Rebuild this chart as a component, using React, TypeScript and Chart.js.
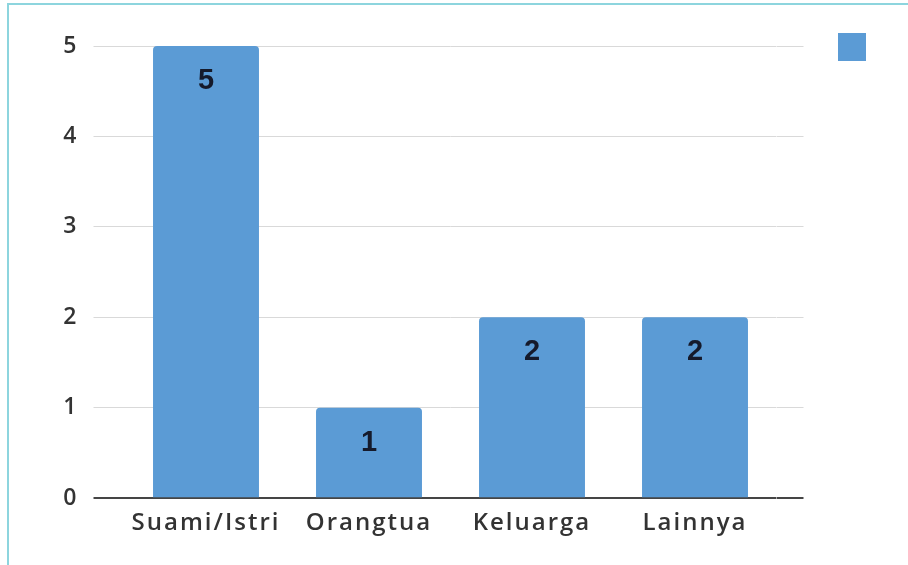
import { useEffect, useRef } from 'react';
import { Chart, registerables } from 'chart.js';

Chart.register(...registerables);

const categories: string[] = ['Suami/Istri', 'Orangtua', 'Keluarga', 'Lainnya'];
const values: number[] = [5, 1, 2, 2];
const yMin = 0;
const yMax = 5;
const yStep = 1;

const FONT = '"Open Sans", "DejaVu Sans", sans-serif';

export default function App() {
  const ref = useRef<HTMLCanvasElement | null>(null);

  useEffect(() => {
    if (!ref.current) return;
    const gridColor = (c: any) => (c.tick && c.tick.value === 0 ? '#454545' : '#d9d9d9');
    const gridWidth = (c: any) => (c.tick && c.tick.value === 0 ? 2 : 1);

    const spacingPlugin = {
      id: 'spacing',
      beforeLayout(chart: any) {
        chart.ctx.letterSpacing = '2px';
      },
      beforeDraw(chart: any) {
        chart.ctx.letterSpacing = '2px';
      },
    };

    const labelPlugin = {
      id: 'barLabels',
      afterDatasetsDraw(chart: any) {
        const { ctx } = chart;
        const meta = chart.getDatasetMeta(0);
        ctx.save();
        ctx.letterSpacing = '0px';
        ctx.font = 'bold 29px "Liberation Sans", Arial, sans-serif';
        ctx.fillStyle = '#151a2b';
        ctx.textAlign = 'center';
        ctx.textBaseline = 'middle';
        meta.data.forEach((bar: any, i: number) => {
          const { x, y } = bar.getProps(['x', 'y'], true);
          ctx.fillText(String(values[i]), x, y + 35);
        });
        ctx.restore();
      },
    };

    const chart = new Chart(ref.current, {
      type: 'bar',
      data: {
        labels: categories,
        datasets: [
          {
            label: '',
            data: values,
            backgroundColor: '#5b9bd5',
            borderWidth: 0,
            borderRadius: 4,
            barPercentage: 0.65,
            categoryPercentage: 1,
            xAxisID: 'x',
            yAxisID: 'y',
          },
        ],
      },
      options: {
        responsive: false,
        animation: false,
        layout: { padding: { top: 23, right: 26, bottom: 16, left: 0 } },
        plugins: {
          tooltip: { enabled: false },
          legend: {
            position: 'right',
            align: 'start',
            labels: { boxWidth: 28, boxHeight: 28, padding: 10, font: { size: 12 } },
          },
        },
        scales: {
          x: {
            type: 'category',
            offset: true,
            grid: { display: false, drawTicks: false },
            border: { display: false },
            ticks: {
              font: { family: FONT, size: 24, weight: '600' },
              color: '#333333',
              padding: 11,
              maxRotation: 0,
              autoSkip: false,
            },
          },
          xTop: {
            type: 'category',
            position: 'top',
            labels: categories,
            grid: { display: false, drawTicks: false },
            border: { display: false },
            ticks: { display: false },
            afterFit(s: any) {
              s.height = 23;
            },
          },
          y: {
            type: 'linear',
            min: yMin,
            max: yMax,
            ticks: {
              stepSize: yStep,
              font: { family: FONT, size: 23, weight: '600' },
              color: '#333333',
              padding: 15,
            },
            grid: {
              color: gridColor,
              lineWidth: gridWidth,
              tickColor: gridColor,
              tickLength: 31,
              drawTicks: true,
            },
            border: { display: false },
            afterFit(s: any) {
              s.width = 124.5;
            },
          },
          yR: {
            type: 'linear',
            position: 'right',
            min: yMin,
            max: yMax,
            ticks: { stepSize: yStep, display: false },
            grid: {
              drawOnChartArea: false,
              color: gridColor,
              lineWidth: gridWidth,
              tickColor: gridColor,
              tickLength: 27,
              drawTicks: true,
            },
            border: { display: false },
            afterFit(s: any) {
              s.width = 51.5;
            },
          },
        },
      },
      plugins: [spacingPlugin, labelPlugin],
    } as any);

    return () => chart.destroy();
  }, []);

  return (
    <div style={{ position: 'absolute', left: 0, top: 0, width: 908, height: 565, background: '#fff' }}>
      <div
        style={{
          position: 'absolute',
          left: 7,
          top: 3,
          width: 908,
          height: 600,
          borderTop: '2px solid #8dd5de',
          borderLeft: '2px solid #8dd5de',
          boxSizing: 'border-box',
        }}
      />
      <canvas ref={ref} width={908} height={565} style={{ position: 'absolute', left: 0, top: 0 }} />
    </div>
  );
}
